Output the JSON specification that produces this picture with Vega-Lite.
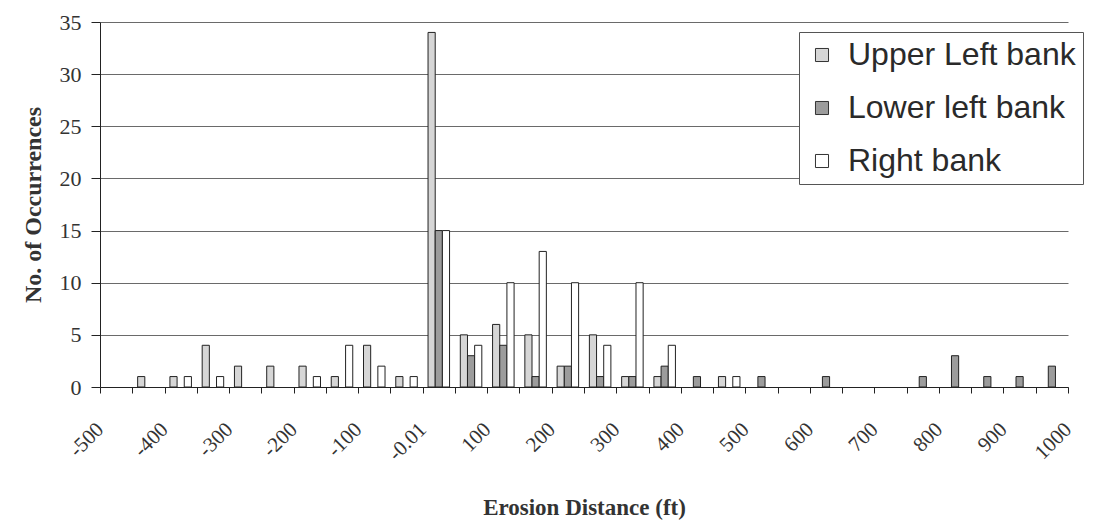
{
  "$schema": "https://vega.github.io/schema/vega-lite/v6.json",
  "width": 968,
  "height": 365,
  "autosize": {"type": "none"},
  "padding": {"left": 100, "top": 22, "right": 28, "bottom": 139},
  "background": "white",
  "config": {"view": {"stroke": null}},
  "data": {"values": [
    {"lo": -450, "series": "Upper Left bank", "count": 1},
    {"lo": -400, "series": "Upper Left bank", "count": 1},
    {"lo": -350, "series": "Upper Left bank", "count": 4},
    {"lo": -300, "series": "Upper Left bank", "count": 2},
    {"lo": -250, "series": "Upper Left bank", "count": 2},
    {"lo": -200, "series": "Upper Left bank", "count": 2},
    {"lo": -150, "series": "Upper Left bank", "count": 1},
    {"lo": -100, "series": "Upper Left bank", "count": 4},
    {"lo": -50, "series": "Upper Left bank", "count": 1},
    {"lo": 0, "series": "Upper Left bank", "count": 34},
    {"lo": 50, "series": "Upper Left bank", "count": 5},
    {"lo": 100, "series": "Upper Left bank", "count": 6},
    {"lo": 150, "series": "Upper Left bank", "count": 5},
    {"lo": 200, "series": "Upper Left bank", "count": 2},
    {"lo": 250, "series": "Upper Left bank", "count": 5},
    {"lo": 300, "series": "Upper Left bank", "count": 1},
    {"lo": 350, "series": "Upper Left bank", "count": 1},
    {"lo": 450, "series": "Upper Left bank", "count": 1},
    {"lo": 0, "series": "Lower left bank", "count": 15},
    {"lo": 50, "series": "Lower left bank", "count": 3},
    {"lo": 100, "series": "Lower left bank", "count": 4},
    {"lo": 150, "series": "Lower left bank", "count": 1},
    {"lo": 200, "series": "Lower left bank", "count": 2},
    {"lo": 250, "series": "Lower left bank", "count": 1},
    {"lo": 300, "series": "Lower left bank", "count": 1},
    {"lo": 350, "series": "Lower left bank", "count": 2},
    {"lo": 400, "series": "Lower left bank", "count": 1},
    {"lo": 500, "series": "Lower left bank", "count": 1},
    {"lo": 600, "series": "Lower left bank", "count": 1},
    {"lo": 750, "series": "Lower left bank", "count": 1},
    {"lo": 800, "series": "Lower left bank", "count": 3},
    {"lo": 850, "series": "Lower left bank", "count": 1},
    {"lo": 900, "series": "Lower left bank", "count": 1},
    {"lo": 950, "series": "Lower left bank", "count": 2},
    {"lo": -400, "series": "Right bank", "count": 1},
    {"lo": -350, "series": "Right bank", "count": 1},
    {"lo": -200, "series": "Right bank", "count": 1},
    {"lo": -150, "series": "Right bank", "count": 4},
    {"lo": -100, "series": "Right bank", "count": 2},
    {"lo": -50, "series": "Right bank", "count": 1},
    {"lo": 0, "series": "Right bank", "count": 15},
    {"lo": 50, "series": "Right bank", "count": 4},
    {"lo": 100, "series": "Right bank", "count": 10},
    {"lo": 150, "series": "Right bank", "count": 13},
    {"lo": 200, "series": "Right bank", "count": 10},
    {"lo": 250, "series": "Right bank", "count": 4},
    {"lo": 300, "series": "Right bank", "count": 10},
    {"lo": 350, "series": "Right bank", "count": 4},
    {"lo": 450, "series": "Right bank", "count": 1}
  ]},
  "layer": [
    {
      "mark": {"type": "bar", "stroke": "#222222", "strokeWidth": 1},
      "encoding": {
        "x": {
          "field": "lo", "type": "ordinal",
          "scale": {
            "domain": [-500,-450,-400,-350,-300,-250,-200,-150,-100,-50,0,50,100,150,200,250,300,350,400,450,500,550,600,650,700,750,800,850,900,950],
            "paddingInner": 0, "paddingOuter": 0
          },
          "axis": null
        },
        "xOffset": {
          "field": "series", "type": "nominal",
          "sort": ["Upper Left bank", "Lower left bank", "Right bank"],
          "scale": {"paddingInner": 0, "paddingOuter": 0.75}
        },
        "y": {
          "field": "count", "type": "quantitative",
          "scale": {"domain": [0, 35], "nice": false},
          "axis": {
            "values": [0, 5, 10, 15, 20, 25, 30, 35],
            "grid": true, "gridColor": "#6a6a6a", "gridWidth": 1,
            "domainColor": "#222222", "tickColor": "#222222", "tickSize": 9,
            "labelFont": "Liberation Serif", "labelFontSize": 22, "labelColor": "#333333", "labelPadding": 10,
            "title": "No. of Occurrences",
            "titleFont": "Liberation Serif", "titleFontSize": 24, "titleFontWeight": "bold", "titleColor": "#333333",
            "titlePadding": 14
          }
        },
        "color": {
          "field": "series", "type": "nominal",
          "sort": ["Upper Left bank", "Lower left bank", "Right bank"],
          "scale": {"domain": ["Upper Left bank", "Lower left bank", "Right bank"], "range": ["#d6d6d6", "#9c9c9c", "#ffffff"]},
          "legend": {
            "title": null, "orient": "none", "legendX": 699, "legendY": 10,
            "fillColor": "white", "strokeColor": "#555555", "padding": 7,
            "symbolType": "square", "symbolSize": 170, "symbolStrokeColor": "#333333", "symbolStrokeWidth": 1,
            "labelFont": "Liberation Sans", "labelFontSize": 32, "labelColor": "#2a2a2a", "labelOffset": 10,
            "rowPadding": 21, "labelLimit": 400
          }
        }
      }
    },
    {
      "mark": {"type": "rule", "strokeOpacity": 0},
      "encoding": {
        "x": {
          "field": "lo", "type": "quantitative",
          "scale": {"domain": [-500, 1000], "nice": false, "zero": false},
          "axis": {
            "values": [-500,-450,-400,-350,-300,-250,-200,-150,-100,-50,0,50,100,150,200,250,300,350,400,450,500,550,600,650,700,750,800,850,900,950,1000],
            "labelExpr": "datum.value == 0 ? '-0.01' : (datum.value % 100 == 0 ? '' + datum.value : '')",
            "labelAngle": -45, "labelAlign": "right", "labelBaseline": "middle",
            "labelPadding": 33, "labelOverlap": false, "labelFlush": false,
            "labelFont": "Liberation Serif", "labelFontSize": 21, "labelColor": "#333333",
            "tickSize": 6, "tickColor": "#222222", "domainColor": "#222222", "grid": false,
            "title": "Erosion Distance (ft)",
            "titleFont": "Liberation Serif", "titleFontSize": 23, "titleFontWeight": "bold", "titleColor": "#333333",
            "titlePadding": 32
          }
        }
      }
    }
  ],
  "resolve": {"scale": {"x": "independent"}, "axis": {"x": "independent"}}
}
